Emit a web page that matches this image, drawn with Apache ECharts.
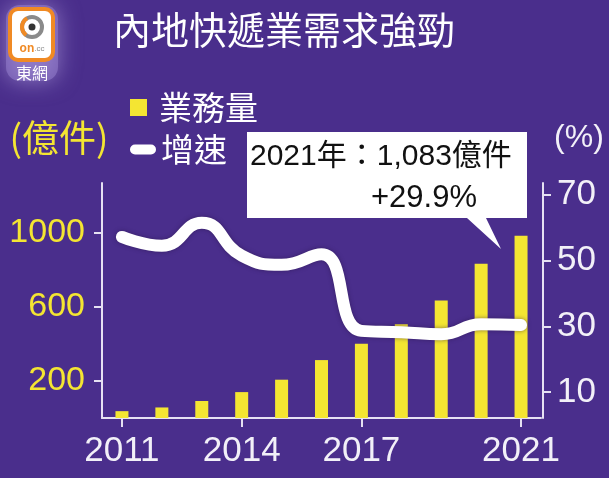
<!DOCTYPE html>
<html>
<head>
<meta charset="utf-8">
<script src="https://cdn.jsdelivr.net/npm/echarts@6/dist/echarts.min.js"></script>
<style>
html,body{margin:0;padding:0;background:#4a2e8c;}
#c{width:609px;height:478px;}
</style>
</head>
<body>
<div id="c"></div>
<script>
// ---- data ----
const years = ['2011','2012','2013','2014','2015','2016','2017','2018','2019','2020','2021'];
const volume = [37, 57, 92, 140, 207, 313, 401, 507, 635, 834, 985];      // 業務量 (億件), as drawn
const growth = [57.2, 54.5, 61.5, 51.5, 48.7, 51.9, 28.6, 28.2, 27.6, 30.6, 30.4]; // 增速 (%)
const leftTicks = [200, 600, 1000];
const rightTicks = [10, 30, 50, 70];
const xLabelYears = ['2011', '2014', '2017', '2021'];
const titleText = '內地快遞業需求強勁';
const calloutLine1 = '2021年：1,083億件';
const calloutLine2 = '+29.9%';

const BG = '#4a2e8c';
const YELLOW = '#f4e532';
const WHITE = '#f2f0f8';
const AXIS = '#e6e1f2';
const CJK = '"Noto Sans CJK TC","Noto Sans CJK SC",sans-serif';
const LAT = '"Liberation Sans",Arial,"Noto Sans CJK TC",sans-serif';

const chart = echarts.init(document.getElementById('c'), null, {renderer: 'canvas'});
const showYear = (idx, val) => xLabelYears.includes(String(val !== undefined ? val : years[idx]));

chart.setOption({
  backgroundColor: BG,
  animation: false,
  title: {
    text: titleText, left: 108, top: 6,
    textStyle: {color: '#ffffff', fontSize: 38, fontWeight: 'normal', fontFamily: CJK}
  },
  legend: [
    {
      data: [{name: '業務量', icon: 'rect'}],
      left: 130, top: 91, padding: 0, itemWidth: 17, itemHeight: 17, selectedMode: false,
      itemStyle: {color: YELLOW},
      textStyle: {color: '#ffffff', fontSize: 33, fontFamily: CJK, padding: [0, 0, 0, 7]}
    },
    {
      data: [{name: '增速', icon: 'path://M5,0 L21,0 A5,5 0 0 1 21,10 L5,10 A5,5 0 0 1 5,0 Z'}],
      left: 130, top: 133, padding: 0, itemWidth: 26, itemHeight: 10, selectedMode: false,
      itemStyle: {color: '#ffffff'},
      textStyle: {color: '#ffffff', fontSize: 33, fontFamily: CJK, padding: [0, 0, 0, 0]}
    }
  ],
  grid: {left: 102, right: 68, top: 183, bottom: 60},
  xAxis: {
    type: 'category', data: years, boundaryGap: true,
    axisLine: {lineStyle: {color: AXIS, width: 2}},
    axisTick: {show: true, alignWithLabel: true, length: 9, interval: (i, v) => showYear(i, v), lineStyle: {color: AXIS, width: 2}},
    axisLabel: {interval: (i, v) => showYear(i, v), color: WHITE, fontSize: 35, fontFamily: LAT, margin: 16}
  },
  yAxis: [
    {
      type: 'value', min: 0, max: 1270, position: 'left',
      splitLine: {show: false},
      axisLine: {show: true, lineStyle: {color: AXIS, width: 2}},
      axisTick: {show: true, length: 8, customValues: leftTicks, lineStyle: {color: AXIS, width: 2}},
      axisLabel: {customValues: leftTicks, formatter: v => String(v), color: YELLOW, fontSize: 34, fontFamily: LAT, margin: 17}
    },
    {
      type: 'value', min: 2.1, max: 73.6, position: 'right', offset: 2,
      splitLine: {show: false},
      axisLine: {show: true, lineStyle: {color: AXIS, width: 2}},
      axisTick: {show: true, length: 8, customValues: rightTicks, lineStyle: {color: AXIS, width: 2}},
      axisLabel: {customValues: rightTicks, formatter: v => String(v), color: WHITE, fontSize: 35, fontFamily: LAT, margin: 14}
    }
  ],
  series: [
    {
      name: '業務量', type: 'bar', data: volume, yAxisIndex: 0, barWidth: 13,
      itemStyle: {color: YELLOW}, z: 2
    },
    {
      name: '增速', type: 'line', data: growth, yAxisIndex: 1, smooth: 0.5,
      symbol: 'none', z: 5,
      lineStyle: {color: '#ffffff', width: 12, cap: 'round', join: 'round',
        shadowColor: 'rgba(40,20,70,0.55)', shadowBlur: 4},
      itemStyle: {color: '#ffffff'}
    }
  ],
  graphic: [
    // logo glow
    {type: 'rect', shape: {x: 6, y: 5, width: 52, height: 76, r: 14}, z: 0, silent: true,
      style: {fill: 'rgba(150,128,205,0.55)', shadowColor: 'rgba(200,185,240,0.95)', shadowBlur: 22}},
    {type: 'rect', shape: {x: 10, y: 9, width: 43, height: 51, r: 8}, z: 1,
      style: {fill: '#ffffff', stroke: '#f08a24', lineWidth: 4}},
    {type: 'circle', shape: {cx: 32, cy: 27, r: 10}, z: 2,
      style: {fill: 'none', stroke: '#8a8a8a', lineWidth: 4}},
    {type: 'arc', shape: {cx: 32, cy: 27, r: 10, startAngle: 2.2, endAngle: 4.2}, z: 3,
      style: {fill: 'none', stroke: '#f08a24', lineWidth: 4}},
    {type: 'circle', shape: {cx: 32, cy: 27, r: 3.5}, z: 3, style: {fill: '#333333'}},
    {type: 'text', x: 32, y: 49, z: 3, style: {text: '{a|on}{b|.cc}', rich: {
      a: {fill: '#f08a24', fontSize: 12, fontWeight: 'bold', fontFamily: LAT},
      b: {fill: '#8a8a8a', fontSize: 8, fontFamily: LAT}},
      align: 'center', verticalAlign: 'middle'}},
    {type: 'text', x: 32, y: 73, z: 3, style: {text: '東網', fill: '#ffffff', fontSize: 16, fontFamily: CJK,
      align: 'center', verticalAlign: 'middle'}},
    // axis unit labels
    {type: 'text', x: 59, y: 138, style: {text: '(億件)', fill: YELLOW, fontSize: 37, fontFamily: CJK,
      align: 'center', verticalAlign: 'middle'}},
    {type: 'text', x: 579, y: 138, style: {text: '(%)', fill: WHITE, fontSize: 32, fontFamily: LAT,
      align: 'center', verticalAlign: 'middle'}},
    // callout
    {type: 'polygon', z: 10, shape: {points: [[247,132],[527,132],[527,218],[486,218],[501,249],[467,218],[247,218]]},
      style: {fill: '#ffffff'}},
    {type: 'text', z: 11, x: 250, y: 157, style: {text: calloutLine1, fill: '#111111', fontSize: 30, fontFamily: LAT,
      align: 'left', verticalAlign: 'middle'}},
    {type: 'text', z: 11, x: 371, y: 198, style: {text: calloutLine2, fill: '#111111', fontSize: 31, fontFamily: LAT,
      align: 'left', verticalAlign: 'middle'}}
  ]
});
</script>
</body>
</html>
